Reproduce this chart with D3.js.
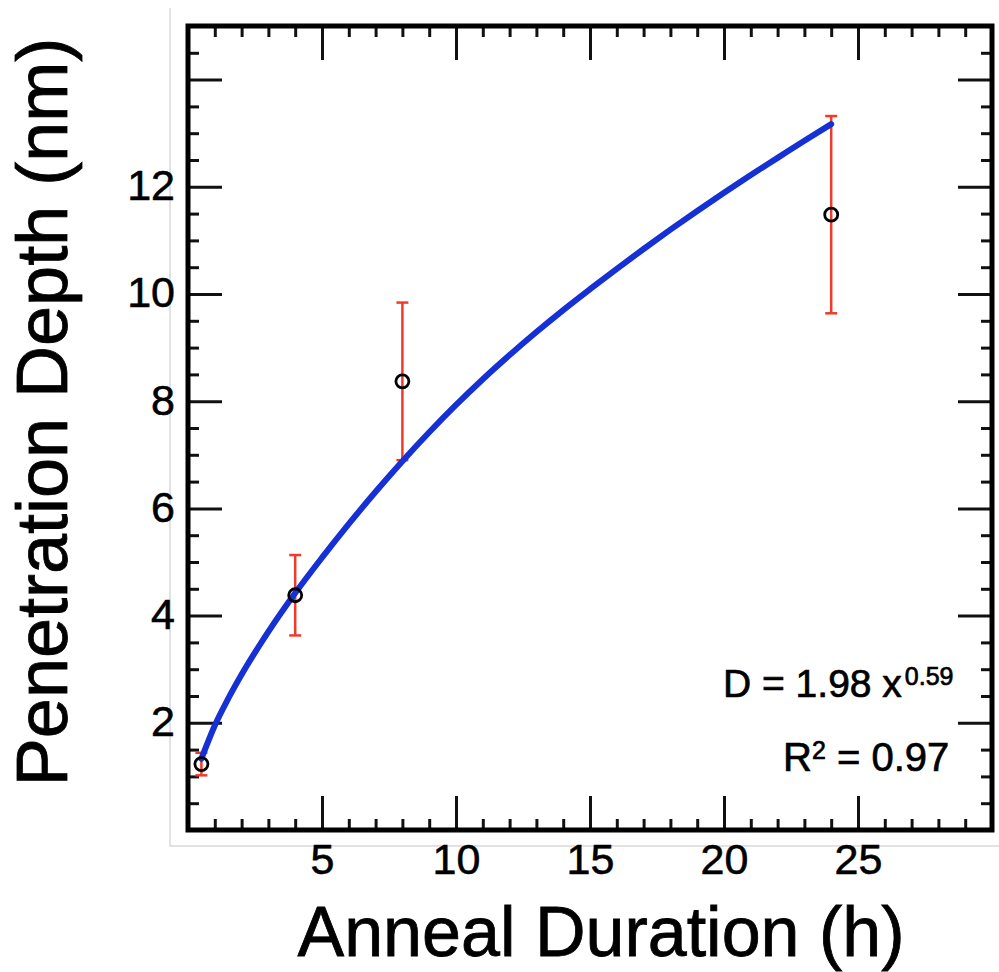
<!DOCTYPE html>
<html>
<head>
<meta charset="utf-8">
<script src="https://cdn.jsdelivr.net/npm/d3@7"></script>
<style>
  html, body { margin: 0; padding: 0; background: #fff; }
  svg { display: block; font-family: "Liberation Sans", Arial, sans-serif; }
</style>
</head>
<body>
<svg id="chart" width="999" height="972"></svg>
<script>
// Measured penetration depth per anneal duration, with error bars
const duration = [0.5, 4, 8, 24];
const depth = [1.23, 4.38, 8.37, 11.48];
const depthErr = [0.21, 0.75, 1.47, 1.84];

// Power-law fit curve (D = 1.98 x^0.59), sampled along the trace
const fitDuration = [0.5, 1, 1.5, 2, 3, 4, 5, 6, 7, 8, 9, 10, 11, 12, 13, 14, 15, 16, 17, 18, 19, 20, 21, 22, 23, 24];
const fitDepth = [1.33, 1.95, 2.45, 2.9, 3.7, 4.42, 5.08, 5.71, 6.31, 6.88, 7.42, 7.93, 8.41, 8.86, 9.29, 9.7, 10.09, 10.47, 10.84, 11.2, 11.55, 11.89, 12.22, 12.54, 12.86, 13.17];

// Axis ticks
const xTickLabels = [5, 10, 15, 20, 25];
const yTickLabels = [2, 4, 6, 8, 10, 12];
const xMinor = d3.range(0, 31, 1);
const yMinor = d3.range(0, 15.01, 0.5);
const xMajor = d3.range(0, 31, 5);
const yMajor = d3.range(0, 15.01, 2);

const svg = d3.select("#chart");
const plotL = 188, plotR = 992, plotT = 26, plotB = 830;

const x = d3.scaleLinear().domain([0, 30]).range([plotL, plotR]);
const y = d3.scaleLinear().domain([0, 15]).range([plotB, plotT]);

// light outer border
svg.append("path")
  .attr("d", `M170,8 V846 H999`)
  .attr("fill", "none")
  .attr("stroke", "#d9d9d9")
  .attr("stroke-width", 1.5);

const tickColor = "#111";
const minorLen = 11, majorLen = 34;
const isMajorX = v => xMajor.includes(v);
const isMajorY = v => yMajor.some(m => Math.abs(m - v) < 1e-9);

function styleAxis(g) {
  g.select(".domain").remove();
  g.selectAll(".tick line").attr("stroke", tickColor).attr("stroke-width", 3);
  g.selectAll(".tick text")
    .attr("fill", "#000")
    .attr("stroke", "#000")
    .attr("stroke-width", 0.6)
    .attr("font-size", 43)
    .attr("font-family", "'Liberation Sans', Arial, sans-serif");
}

// bottom axis
const gB = svg.append("g").attr("transform", `translate(0,${plotB})`)
  .call(d3.axisBottom(x).tickValues(xMinor).tickSizeInner(-minorLen).tickSizeOuter(0).tickPadding(13)
    .tickFormat(d => xTickLabels.includes(d) ? d : ""));
styleAxis(gB);
gB.selectAll(".tick line").attr("y2", d => isMajorX(d) ? -majorLen : -minorLen);

// top axis
const gT = svg.append("g").attr("transform", `translate(0,${plotT})`)
  .call(d3.axisTop(x).tickValues(xMinor).tickSizeInner(-minorLen).tickSizeOuter(0).tickFormat(""));
styleAxis(gT);
gT.selectAll(".tick line").attr("y2", d => isMajorX(d) ? majorLen : minorLen);

// left axis
const gL = svg.append("g").attr("transform", `translate(${plotL},0)`)
  .call(d3.axisLeft(y).tickValues(yMinor).tickSizeInner(-minorLen).tickSizeOuter(0).tickPadding(13)
    .tickFormat(d => yTickLabels.includes(d) ? d : ""));
styleAxis(gL);
gL.selectAll(".tick line").attr("x2", d => isMajorY(d) ? majorLen : minorLen);
gL.selectAll(".tick text").attr("dy", "0.30em");

// right axis
const gR = svg.append("g").attr("transform", `translate(${plotR},0)`)
  .call(d3.axisRight(y).tickValues(yMinor).tickSizeInner(-minorLen).tickSizeOuter(0).tickFormat(""));
styleAxis(gR);
gR.selectAll(".tick line").attr("x2", d => isMajorY(d) ? -majorLen : -minorLen);

// frame
svg.append("rect")
  .attr("x", plotL).attr("y", plotT)
  .attr("width", plotR - plotL).attr("height", plotB - plotT)
  .attr("fill", "none").attr("stroke", "#000").attr("stroke-width", 5);

// error bars
const errColor = "#ee3b2b";
const pts = duration.map((d, i) => ({ x: d, y: depth[i], e: depthErr[i] }));
const eb = svg.append("g").attr("stroke", errColor).attr("stroke-width", 2.5);
pts.forEach(p => {
  eb.append("line").attr("x1", x(p.x)).attr("x2", x(p.x)).attr("y1", y(p.y - p.e)).attr("y2", y(p.y + p.e));
  [p.y - p.e, p.y + p.e].forEach(v => {
    eb.append("line").attr("x1", x(p.x) - 6).attr("x2", x(p.x) + 6).attr("y1", y(v)).attr("y2", y(v));
  });
});

// fit curve
const fit = fitDuration.map((d, i) => [d, fitDepth[i]]);
svg.append("path")
  .datum(fit)
  .attr("d", d3.line().x(d => x(d[0])).y(d => y(d[1])).curve(d3.curveMonotoneX))
  .attr("fill", "none")
  .attr("stroke", "#1530d4")
  .attr("stroke-width", 6)
  .attr("stroke-linecap", "round")
  .attr("stroke-linejoin", "round");

// data markers
svg.append("g").selectAll("circle").data(pts).join("circle")
  .attr("cx", p => x(p.x)).attr("cy", p => y(p.y))
  .attr("r", 6.5)
  .attr("fill", "none")
  .attr("stroke", "#000")
  .attr("stroke-width", 2.8);

// fit equation
const eq = svg.append("text").attr("x", 723).attr("y", 697).attr("font-size", 39)
  .attr("fill", "#000").attr("stroke", "#000").attr("stroke-width", 0.7);
eq.append("tspan").text("D = 1.98 x");
eq.append("tspan").attr("font-size", 25).attr("dy", -12).attr("dx", 3).text("0.59");

const r2 = svg.append("text").attr("x", 783).attr("y", 771).attr("font-size", 40)
  .attr("fill", "#000").attr("stroke", "#000").attr("stroke-width", 0.7);
r2.append("tspan").text("R");
r2.append("tspan").attr("font-size", 25).attr("dy", -12).text("2");
r2.append("tspan").attr("dy", 12).text(" = 0.97");

// axis titles
svg.append("text")
  .attr("x", 601).attr("y", 956)
  .attr("text-anchor", "middle")
  .attr("font-size", 70)
  .attr("fill", "#000").attr("stroke", "#000").attr("stroke-width", 0.8)
  .text("Anneal Duration (h)");

svg.append("text")
  .attr("transform", "translate(67,412) rotate(-90)")
  .attr("text-anchor", "middle")
  .attr("font-size", 72)
  .attr("fill", "#000").attr("stroke", "#000").attr("stroke-width", 0.8)
  .text("Penetration Depth (nm)");
</script>
</body>
</html>
